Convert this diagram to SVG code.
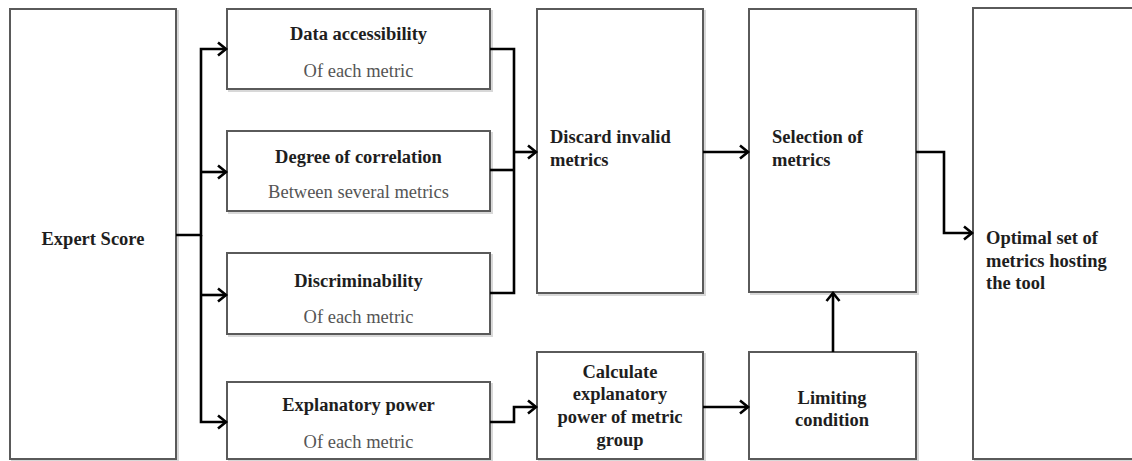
<svg xmlns="http://www.w3.org/2000/svg" width="1132" height="461" viewBox="0 0 1132 461">
<style>
.box{fill:#fff;stroke:#5a5a5a;stroke-width:2}
.sh{fill:none;stroke:#d8d8d8;stroke-width:2}
.t{font-family:"Liberation Serif","Times New Roman",serif;font-size:18.5px;font-weight:bold;fill:#1e1e1e}
.s{font-family:"Liberation Serif","Times New Roman",serif;font-size:18.5px;fill:#555}
.c{text-anchor:middle}
.ln{fill:none;stroke:#000;stroke-width:2.6;stroke-linejoin:miter}
</style>
<defs>
<marker id="ar" markerUnits="userSpaceOnUse" markerWidth="14" markerHeight="16" refX="11" refY="8" orient="auto">
<path d="M3 1.5 L11 8 L3 14.5" fill="none" stroke="#000" stroke-width="2.6"/>
</marker>
</defs>
<rect width="1132" height="461" fill="#fff"/>
<g id="expert">
<rect class="sh" x="12" y="11" width="166" height="450"/>
<rect class="box" x="10" y="9" width="166" height="450"/>
<text class="t c" x="93" y="245">Expert Score</text>
</g>
<g id="data-accessibility">
<rect class="sh" x="229" y="11" width="263" height="80"/>
<rect class="box" x="227" y="9" width="263" height="80"/>
<text class="t c" x="358.5" y="40">Data accessibility</text>
<text class="s c" x="358.5" y="77">Of each metric</text>
</g>
<g id="degree-correlation">
<rect class="sh" x="229" y="133" width="263" height="80"/>
<rect class="box" x="227" y="131" width="263" height="80"/>
<text class="t c" x="358.5" y="163">Degree of correlation</text>
<text class="s c" x="358.5" y="198">Between several metrics</text>
</g>
<g id="discriminability">
<rect class="sh" x="229" y="255" width="263" height="81"/>
<rect class="box" x="227" y="253" width="263" height="81"/>
<text class="t c" x="358.5" y="287">Discriminability</text>
<text class="s c" x="358.5" y="323">Of each metric</text>
</g>
<g id="explanatory-power">
<rect class="sh" x="229" y="384" width="263" height="77"/>
<rect class="box" x="227" y="382" width="263" height="77"/>
<text class="t c" x="358.5" y="411">Explanatory power</text>
<text class="s c" x="358.5" y="448">Of each metric</text>
</g>
<g id="discard">
<rect class="sh" x="539" y="11" width="166" height="284"/>
<rect class="box" x="537" y="9" width="166" height="284"/>
<text class="t" x="550" y="143">Discard invalid</text>
<text class="t" x="550" y="166">metrics</text>
</g>
<g id="calculate">
<rect class="sh" x="539" y="354" width="166" height="107"/>
<rect class="box" x="537" y="352" width="166" height="107"/>
<text class="t c" x="620" y="378">Calculate</text>
<text class="t c" x="620" y="400">explanatory</text>
<text class="t c" x="620" y="423">power of metric</text>
<text class="t c" x="620" y="446">group</text>
</g>
<g id="selection">
<rect class="sh" x="751" y="11" width="167" height="283"/>
<rect class="box" x="749" y="9" width="167" height="283"/>
<text class="t" x="772" y="143">Selection of</text>
<text class="t" x="772" y="166">metrics</text>
</g>
<g id="limiting">
<rect class="sh" x="751" y="354" width="167" height="107"/>
<rect class="box" x="749" y="352" width="167" height="107"/>
<text class="t c" x="832" y="404">Limiting</text>
<text class="t c" x="832" y="426">condition</text>
</g>
<g id="optimal">
<rect class="sh" x="975" y="10" width="170" height="451"/>
<rect class="box" x="973" y="8" width="170" height="451"/>
<text class="t" x="986" y="244">Optimal set of</text>
<text class="t" x="986" y="267">metrics hosting</text>
<text class="t" x="986" y="289">the tool</text>
</g>
<g id="connectors">
<path class="ln" d="M176 235 H201 V49 H226" marker-end="url(#ar)"/>
<path class="ln" d="M201 235 V422 H226" marker-end="url(#ar)"/>
<path class="ln" d="M201 172 H226" marker-end="url(#ar)"/>
<path class="ln" d="M201 295 H226" marker-end="url(#ar)"/>
<path class="ln" d="M490 49 H514 V293 H490"/>
<path class="ln" d="M490 170 H514"/>
<path class="ln" d="M514 152 H536" marker-end="url(#ar)"/>
<path class="ln" d="M703 152 H748" marker-end="url(#ar)"/>
<path class="ln" d="M916 152 H944 V233 H972" marker-end="url(#ar)"/>
<path class="ln" d="M490 422 H514 V407 H536" marker-end="url(#ar)"/>
<path class="ln" d="M703 407 H748" marker-end="url(#ar)"/>
<path class="ln" d="M833 352 V293" marker-end="url(#ar)"/>
</g>
</svg>
